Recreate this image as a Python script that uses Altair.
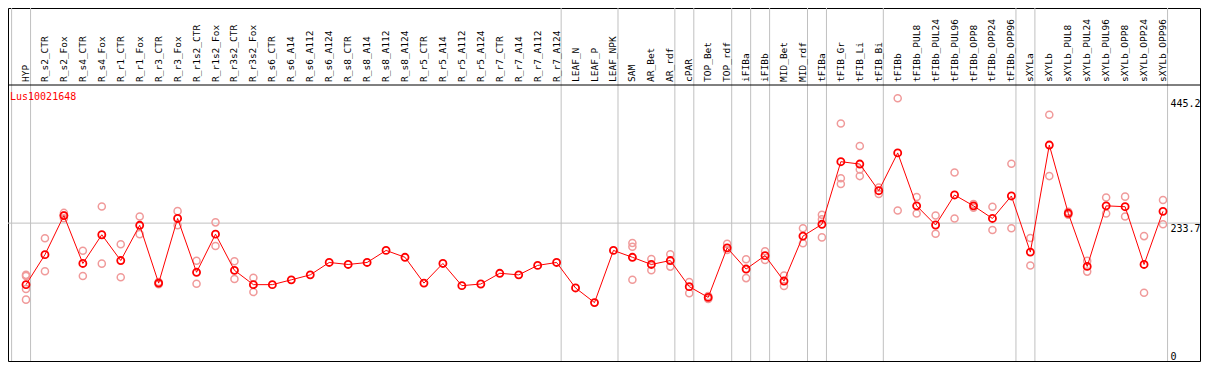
import altair as alt
import pandas as pd

categories = [
    "HYP", "R_s2_CTR", "R_s2_Fox", "R_s4_CTR", "R_s4_Fox", "R_r1_CTR", "R_r1_Fox",
    "R_r3_CTR", "R_r3_Fox", "R_r1s2_CTR", "R_r1s2_Fox", "R_r3s2_CTR", "R_r3s2_Fox",
    "R_s6_CTR", "R_s6_A14", "R_s6_A112", "R_s6_A124", "R_s8_CTR", "R_s8_A14",
    "R_s8_A112", "R_s8_A124", "R_r5_CTR", "R_r5_A14", "R_r5_A112", "R_r5_A124",
    "R_r7_CTR", "R_r7_A14", "R_r7_A112", "R_r7_A124", "LEAF_N", "LEAF_P", "LEAF_NPK",
    "SAM", "AR_Bet", "AR_rdf", "cPAR", "TOP_Bet", "TOP_rdf", "iFIBa", "iFIBb",
    "MID_Bet", "MID_rdf", "tFIBa", "tFIB_Gr", "tFIB_Li", "tFIB_Bi", "tFIBb",
    "tFIBb_PUL8", "tFIBb_PUL24", "tFIBb_PUL96", "tFIBb_OPP8", "tFIBb_OPP24", "tFIBb_OPP96",
    "sXYLa", "sXYLb", "sXYLb_PUL8", "sXYLb_PUL24", "sXYLb_PUL96", "sXYLb_OPP8",
    "sXYLb_OPP24", "sXYLb_OPP96",
]

means = [
    129.4, 180.2, 246.5, 165.3, 214.0, 170.3, 230.0, 132.0, 241.6, 150.4, 215.0, 153.7, 129.4,
    129.4, 137.6, 146.0, 167.0, 163.6, 167.0, 187.4, 175.8, 132.0, 165.3, 127.7, 130.5,
    148.7, 146.0, 162.0, 167.0, 123.8, 99.0, 187.4,
    175.8, 163.6, 170.3, 126.0, 107.8, 191.8, 155.9, 178.6, 135.5, 211.7, 231.7,
    337.8, 333.8, 288.6, 352.7, 263.0, 230.5, 281.4, 263.0, 241.6, 279.7,
    184.6, 366.0, 250.4, 160.3, 263.0, 261.5, 163.6, 253.7,
]

replicates = [
    [146, 144, 122, 104], [208, 152], [251, 247, 242], [187, 144], [262, 165],
    [198, 142], [245, 215], [134, 130], [254, 230], [170, 131], [235, 195],
    [169, 139], [141, 117],
    [], [], [], [], [], [], [], [], [], [], [], [], [], [], [], [], [], [], [],
    [200, 193.5, 137.6], [173, 154], [181, 160], [134, 115], [110, 105],
    [198.5, 188], [172.5, 140.5], [186, 171.3], [144.8, 127.2], [225, 199.5],
    [248, 240, 209.5], [402.4, 309.6, 300], [364.3, 324.5, 313.4], [294, 283],
    [445.2, 255], [278, 250], [246.6, 215.6], [319.5, 241.6], [266, 260],
    [261.5, 222], [334.4, 225], [208.4, 162], [417.4, 313.4], [253, 248],
    [169.7, 151.5], [277, 250], [278.6, 245], [211.7, 115.6], [273, 231.7],
]

# index of the last category of each group (-1 = before the first)
group_ends = [-1, 0, 28, 31, 34, 35, 37, 38, 39, 41, 42, 45, 52, 53, 60]
axis_values = [0, 233.7, 445.2]
grid_values = [233.7]
gene = "Lus10021648"

mean_df = pd.DataFrame({"idx": list(range(len(categories))), "cat": categories, "value": means})
rep_df = pd.DataFrame(
    [{"idx": i, "cat": categories[i], "value": v} for i, reps in enumerate(replicates) for v in reps]
)
brk_df = pd.DataFrame({"end": group_ends})
grid_df = pd.DataFrame({"value": grid_values})
title_df = pd.DataFrame({"t": [gene]})

W = 1192
H = 353
HEAD_H = 77
STEP = 18.95
FONT = "DejaVu Sans Mono"

xscale = alt.Scale(domain=[-18 / STEP, (W - 18) / STEP], nice=False, zero=False)
yscale = alt.Scale(domain=[0, H / 0.59], nice=False, zero=False)
X = alt.X("idx:Q", scale=xscale, axis=None)

yaxis = alt.Axis(
    orient="right", values=axis_values, offset=-30, domain=False, ticks=False,
    grid=False, labelPadding=0, labelFont=FONT, labelFontSize=10,
    labelColor="black", labelAlign="left", labelOverlap=False, title=None,
    labelExpr="datum.value == 0 ? '0' : format(datum.value, '.1f')",
    labelBaseline={"condition": {"test": "datum.value == 0", "value": "bottom"}, "value": "top"},
)
Y = alt.Y("value:Q", scale=yscale, axis=yaxis)

divider_color = "#c0c0c0"

dividers = (
    alt.Chart(brk_df)
    .transform_calculate(pos="datum.end + 0.24")
    .mark_rule(color=divider_color, strokeWidth=1)
    .encode(x=alt.X("pos:Q", scale=xscale, axis=None))
)

header_text = (
    alt.Chart(mean_df)
    .mark_text(angle=270, align="left", baseline="middle", font=FONT, fontSize=9.5, color="black")
    .encode(x=X, y=alt.value(HEAD_H - 3), text="cat:N")
)

header_line = (
    alt.Chart(title_df)
    .mark_rule(color="black", strokeWidth=1)
    .encode(x=alt.value(0), x2=alt.value(W), y=alt.value(HEAD_H))
)

grid = alt.Chart(grid_df).mark_rule(color=divider_color, strokeWidth=1).encode(y=Y)

reps_layer = (
    alt.Chart(rep_df)
    .mark_point(shape="circle", filled=False, color="#f09a9a", strokeWidth=1.5, size=50, opacity=1)
    .encode(x=X, y=Y)
)
line_layer = alt.Chart(mean_df).mark_line(color="#ff0000", strokeWidth=1).encode(x=X, y=Y)
mean_layer = (
    alt.Chart(mean_df)
    .mark_point(shape="circle", filled=False, color="#ff0000", strokeWidth=1.8, size=50, opacity=1)
    .encode(x=X, y=Y)
)
title_layer = (
    alt.Chart(title_df)
    .mark_text(align="left", baseline="middle", font=FONT, fontSize=10, color="#ff0000")
    .encode(x=alt.value(2), y=alt.value(HEAD_H + 12), text="t:N")
)

chart = (
    alt.layer(grid, dividers, header_line, header_text, reps_layer, line_layer, mean_layer, title_layer)
    .properties(width=W, height=H, background="white",
                padding={"left": 0, "top": 0, "right": 1, "bottom": 1},
                autosize=alt.AutoSizeParams(type="none"))
    .configure_view(stroke="black", strokeWidth=1)
)

chart.save("out.html", embed_options={"renderer": "svg", "actions": False})
